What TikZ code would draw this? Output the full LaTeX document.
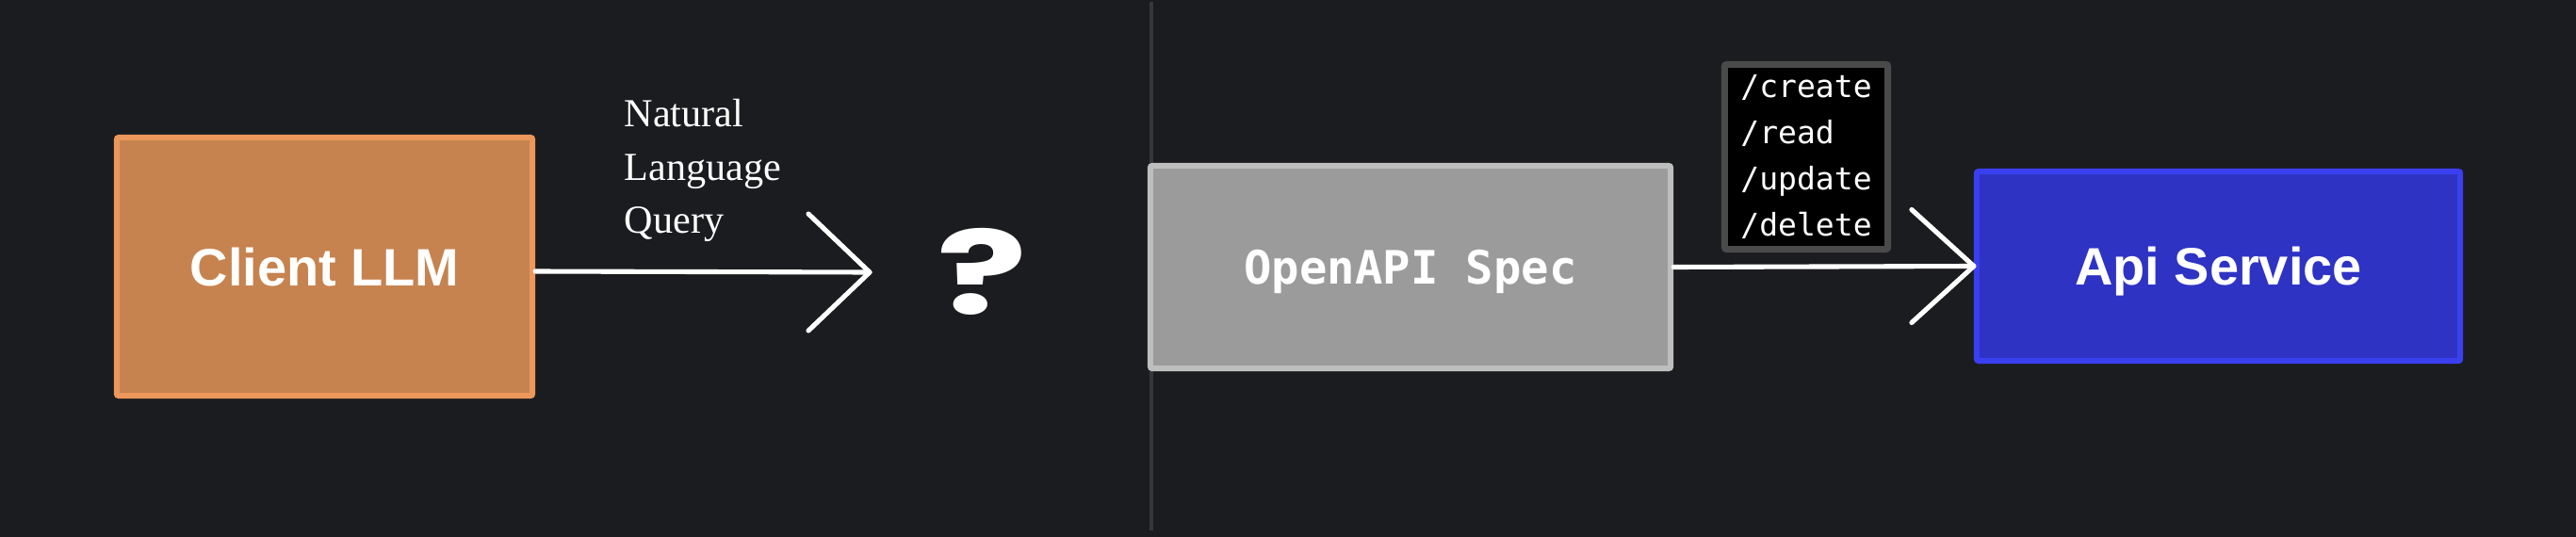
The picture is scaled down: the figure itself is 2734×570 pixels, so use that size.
\documentclass[tikz,border=0pt]{standalone}
\usepackage{fontspec}
\setmainfont{Liberation Serif}
\newfontfamily\labelsans{Liberation Sans}
\newfontfamily\codemono{DejaVu Sans Mono}
\newfontfamily\qmfont{Poppins}
\definecolor{bgcol}{HTML}{1B1C1F}
\definecolor{divcol}{HTML}{36373A}
\definecolor{orangefill}{HTML}{C6834F}
\definecolor{orangeedge}{HTML}{EC975B}
\definecolor{grayfill}{HTML}{9B9B9B}
\definecolor{grayedge}{HTML}{BEBEBE}
\definecolor{bluefill}{HTML}{2E33C4}
\definecolor{blueedge}{HTML}{3A3FF0}
\definecolor{opsedge}{HTML}{4A4A4A}
\begin{document}
\begin{tikzpicture}[x=0.01cm,y=-0.01cm,
  box/.style={rectangle, rounded corners=0.6pt, line width=1.7pt, inner sep=0pt, text=white},
  sanslabel/.style={font=\labelsans\bfseries\fontsize{15.9}{19}\selectfont, text height=15.4pt, text depth=4pt},
  monolabel/.style={font=\codemono\bfseries\fontsize{13.9}{16}\selectfont, text height=13.6pt, text depth=3.5pt},
  opsbox/.style={rectangle, rounded corners=0.6pt, line width=2pt, draw=opsedge, fill=black, text=white, inner sep=0pt, align=left, font=\codemono\fontsize{9.4}{13.9}\selectfont},
  nlq/.style={anchor=base west, inner sep=0pt, text=white, font=\fontsize{12}{15}\selectfont},
  conn/.style={draw=white, line width=1.45pt, line cap=round, line join=round},
  divider/.style={draw=divcol, line width=1.4pt}]
\useasboundingbox (0,0) rectangle (2734,570);
\fill[bgcol] (0,0) rectangle (2734,570);

% divider
\coordinate (divtop) at (1222,2);
\coordinate (divbot) at (1222,563);
\draw[divider] (divtop) -- (divbot);

% nodes
\node[box, sanslabel, fill=orangefill, draw=orangeedge, minimum width=4.41cm, minimum height=2.74cm] (client) at (344.5,283) {Client LLM};
\node[box, monolabel, fill=grayfill, draw=grayedge, minimum width=5.52cm, minimum height=2.15cm] (spec) at (1497,283.5) {OpenAPI Spec};
\node[box, sanslabel, fill=bluefill, draw=blueedge, minimum width=5.13cm, minimum height=2.01cm] (api) at (2354.5,282.5) {Api Service};
\node[opsbox, minimum width=1.73cm, minimum height=1.96cm] (ops) at (1917,166.5) {/create\\/read\\/update\\/delete};
\node[text=white, inner sep=0pt, font=\qmfont\bfseries\fontsize{35}{35}\selectfont] (qm) at (1042,288.5) {\scalebox{1.45}[1]{?}};

\node[nlq] (nlq1) at (662,135) {Natural};
\node[nlq] (nlq2) at (662,192) {Language};
\node[nlq] (nlq3) at (662,247) {Query};

% connector 1
\coordinate (tip1) at (923,289);
\draw[conn] ([yshift=-0.05cm]client.east) -- (tip1);
\draw[conn] ([shift={(-65,-62)}]tip1) -- (tip1) -- ([shift={(-65,62)}]tip1);

% connector 2
\draw[conn] (spec.east) -- (api.west);
\draw[conn] ([shift={(-66,-60)}]api.west) -- (api.west) -- ([shift={(-66,60)}]api.west);
\end{tikzpicture}
\end{document}
